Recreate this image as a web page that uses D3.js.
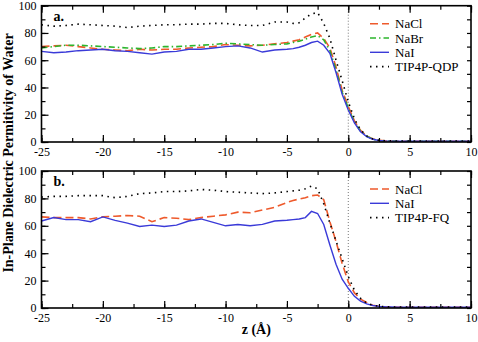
<!DOCTYPE html>
<html lang="en">
    <head>
        <meta charset="utf-8">
        <title>In-plane dielectric permittivity</title>
        <script type="text/javascript" src="https://cdn.jsdelivr.net/npm/d3@7"></script>
        <style>
            body { margin: 0; background: #fff; }
            text { font-family: "Liberation Serif", "Times New Roman", serif; }
        </style>
    </head>
    <body>
        <script type="text/javascript">

            //Width and height
            var w = 478;
            var h = 342;

            //Positions along z (Angstrom), shared by every series
            var zValues = [-25, -24, -23, -22, -21, -20, -19, -18, -17, -16, -15, -14, -13, -12, -11, -10, -9, -8, -7, -6,
                           -5, -4.5, -4, -3.5, -3, -2.5, -2, -1.5, -1, -0.5, 0, 0.5, 1, 1.5, 2, 2.5, 3,
                           4, 5, 6, 7, 8, 9, 10];

            //Panel a.
            var aNaCl = [70, 70.5, 71, 70, 69, 68, 67.5, 67, 68, 67.5, 68, 68, 69, 69.5, 70, 71.5, 71, 70.5, 71, 72,
                         73, 74, 75, 77, 79, 80, 76, 69, 55, 38, 26, 15.5, 8.5, 4.5, 2.2, 1.2, 0.8,
                         0.6, 0.6, 0.6, 0.6, 0.6, 0.6, 0.6];
            var aNaBr = [69, 70, 71, 71, 70.5, 70, 69.5, 69, 68.5, 69, 70, 70, 70.5, 71, 71.5, 72.5, 72, 71.5, 71, 71.5,
                         72, 73, 74, 75.5, 77, 78, 75, 67, 53, 36.5, 25, 14.5, 8, 4.2, 2, 1.1, 0.8,
                         0.6, 0.6, 0.6, 0.6, 0.6, 0.6, 0.6];
            var aNaI = [66.5, 65.5, 66, 67, 67.5, 68, 67, 66.5, 65.5, 64.5, 66, 66.5, 68, 68, 69, 70, 70.5, 69, 66, 67.5,
                        68, 68.5, 69.5, 71, 73, 74, 71, 65, 51, 35, 23.5, 14, 7.5, 4, 2, 1.1, 0.8,
                        0.6, 0.6, 0.6, 0.6, 0.6, 0.6, 0.6];
            var aQDP = [86, 85, 85.5, 86.5, 86, 85.5, 85, 84, 85, 85.5, 86, 86, 86.5, 86.5, 87, 87, 86, 85.5, 85.5, 88,
                        88, 87, 87.5, 91, 94, 95, 87, 76, 60, 45, 29.5, 17, 9, 4.5, 2.3, 1.3, 0.9,
                        0.7, 0.7, 0.7, 0.7, 0.7, 0.7, 0.7];

            //Panel b.
            var bNaCl = [66.5, 66, 66, 66, 65, 66.5, 67, 67.5, 67, 63, 66, 65.5, 64.5, 66, 67, 68, 70, 69.5, 71.5, 73.5,
                         77, 78.5, 79.5, 80.5, 82, 82.5, 79, 63, 48.5, 32.5, 19, 11, 6.5, 4, 2, 1.2, 0.8,
                         0.6, 0.6, 0.6, 0.6, 0.6, 0.6, 0.6];
            var bNaI = [63.5, 66, 64.5, 64.5, 63, 66.5, 64, 62, 59.5, 60.5, 59.5, 60.5, 63.5, 65, 62.5, 60, 61, 60, 61, 63.5,
                        64, 64.5, 65, 66, 70.5, 69, 61, 46, 32, 21, 14.4, 8.5, 5, 3, 1.8, 1.2, 0.9,
                        0.6, 0.6, 0.6, 0.6, 0.6, 0.6, 0.6];
            var bFQ = [81, 81.5, 81.5, 82, 82, 82, 80.5, 81.5, 83.5, 84, 85, 85, 85.5, 86.5, 86, 85, 84.5, 84, 83.5, 84,
                       85, 85.5, 86, 87, 89, 87, 76, 62, 49, 36, 23, 13, 7, 3.5, 2, 1.3, 0.9,
                       0.7, 0.7, 0.7, 0.7, 0.7, 0.7, 0.7];

            var yTicks = [0, 20, 40, 60, 80, 100];
            var xTicks = [-25, -20, -15, -10, -5, 0, 5, 10];

            //Line styles
            var styles = {
                NaCl: { color: "#ee5a2c", dash: "8,4", width: 1.6 },
                NaBr: { color: "#2db52d", dash: "6,3,1.5,3", width: 1.6 },
                NaI: { color: "#3a3ad8", dash: null, width: 1.4 },
                TIP: { color: "#000000", dash: "1.5,4.5", width: 1.6 }
            };

            var panels = [
                { label: "a.", top: 5.7, bottom: 142, series: [
                    { name: "NaCl", values: aNaCl, style: styles.NaCl },
                    { name: "NaBr", values: aNaBr, style: styles.NaBr },
                    { name: "NaI", values: aNaI, style: styles.NaI },
                    { name: "TIP4P-QDP", values: aQDP, style: styles.TIP }
                ]},
                { label: "b.", top: 171, bottom: 308, series: [
                    { name: "NaCl", values: bNaCl, style: styles.NaCl },
                    { name: "NaI", values: bNaI, style: styles.NaI },
                    { name: "TIP4P-FQ", values: bFQ, style: styles.TIP }
                ]}
            ];

            var left = 41.5, right = 471;

            var xScale = d3.scaleLinear().domain([-25, 10]).range([left, right]);

            //Plain hyphen for negative labels, like the original
            var fmt = function(d) { return String(d); };

            var svg = d3.select("body")
                        .append("svg")
                        .attr("width", w)
                        .attr("height", h);

            panels.forEach(function(p) {
                var yScale = d3.scaleLinear().domain([0, 100]).range([p.bottom, p.top]);
                var g = svg.append("g");

                //Dotted line at the interface
                g.append("line")
                    .attr("x1", xScale(0)).attr("x2", xScale(0))
                    .attr("y1", p.top).attr("y2", p.bottom)
                    .attr("stroke", "#555")
                    .attr("stroke-width", 0.8)
                    .attr("stroke-dasharray", "1,2");

                //Series lines
                var line = d3.line()
                    .x(function(d, i) { return xScale(zValues[i]); })
                    .y(function(d) { return yScale(d); });

                p.series.forEach(function(s) {
                    g.append("path")
                        .datum(s.values)
                        .attr("d", line)
                        .attr("fill", "none")
                        .attr("stroke", s.style.color)
                        .attr("stroke-width", s.style.width)
                        .attr("stroke-dasharray", s.style.dash);
                });

                //Axes, ticks pointing inward
                var minorX = d3.range(-25, 10.1, 2.5);
                var minorY = d3.range(0, 100.1, 10);

                g.append("g")
                    .attr("transform", "translate(0," + p.bottom + ")")
                    .call(d3.axisBottom(xScale).tickValues(minorX).tickSize(-4).tickFormat(""));
                g.append("g")
                    .attr("transform", "translate(0," + p.bottom + ")")
                    .call(d3.axisBottom(xScale).tickValues(xTicks).tickSize(-7).tickPadding(5.5).tickFormat(fmt));
                g.append("g")
                    .attr("transform", "translate(0," + p.top + ")")
                    .call(d3.axisTop(xScale).tickValues(minorX).tickSize(-4).tickFormat(""));
                g.append("g")
                    .attr("transform", "translate(0," + p.top + ")")
                    .call(d3.axisTop(xScale).tickValues(xTicks).tickSize(-7).tickFormat(""));

                g.append("g")
                    .attr("transform", "translate(" + left + ",0)")
                    .call(d3.axisLeft(yScale).tickValues(minorY).tickSize(-4).tickFormat(""));
                g.append("g")
                    .attr("transform", "translate(" + left + ",0)")
                    .call(d3.axisLeft(yScale).tickValues(yTicks).tickSize(-7).tickPadding(5).tickFormat(fmt));
                g.append("g")
                    .attr("transform", "translate(" + right + ",0)")
                    .call(d3.axisRight(yScale).tickValues(minorY).tickSize(-4).tickFormat(""));

                g.selectAll(".domain").remove();
                g.selectAll(".tick line").attr("stroke", "#000").attr("stroke-width", 1.2);
                g.selectAll(".tick text")
                    .attr("font-size", "12px")
                    .attr("fill", "#000");

                //Frame
                g.append("rect")
                    .attr("x", left).attr("y", p.top)
                    .attr("width", right - left).attr("height", p.bottom - p.top)
                    .attr("fill", "none")
                    .attr("stroke", "#000")
                    .attr("stroke-width", 1.6);

                //Panel label
                g.append("text")
                    .attr("x", left + 12)
                    .attr("y", p.top + 15)
                    .attr("font-size", "14px")
                    .attr("font-weight", "bold")
                    .text(p.label);

                //Legend
                var legend = g.append("g");
                p.series.forEach(function(s, i) {
                    var ly = p.top + 18 + i * 14.3;
                    legend.append("line")
                        .attr("x1", 370).attr("x2", 389)
                        .attr("y1", ly).attr("y2", ly)
                        .attr("stroke", s.style.color)
                        .attr("stroke-width", s.style.width)
                        .attr("stroke-dasharray", s.style.dash);
                    legend.append("text")
                        .attr("x", 395)
                        .attr("y", ly + 4.5)
                        .attr("font-size", "13px")
                        .text(s.name);
                });
            });

            //Axis titles
            svg.append("text")
                .attr("x", xScale(-7.5))
                .attr("y", 334)
                .attr("text-anchor", "middle")
                .attr("font-size", "14px")
                .attr("font-weight", "bold")
                .text("z (Å)");

            svg.append("text")
                .attr("transform", "translate(13,153) rotate(-90)")
                .attr("text-anchor", "middle")
                .attr("font-size", "14px")
                .attr("font-weight", "bold")
                .text("In-Plane Dielectric Permitivity of Water");

        </script>
    </body>
</html>
